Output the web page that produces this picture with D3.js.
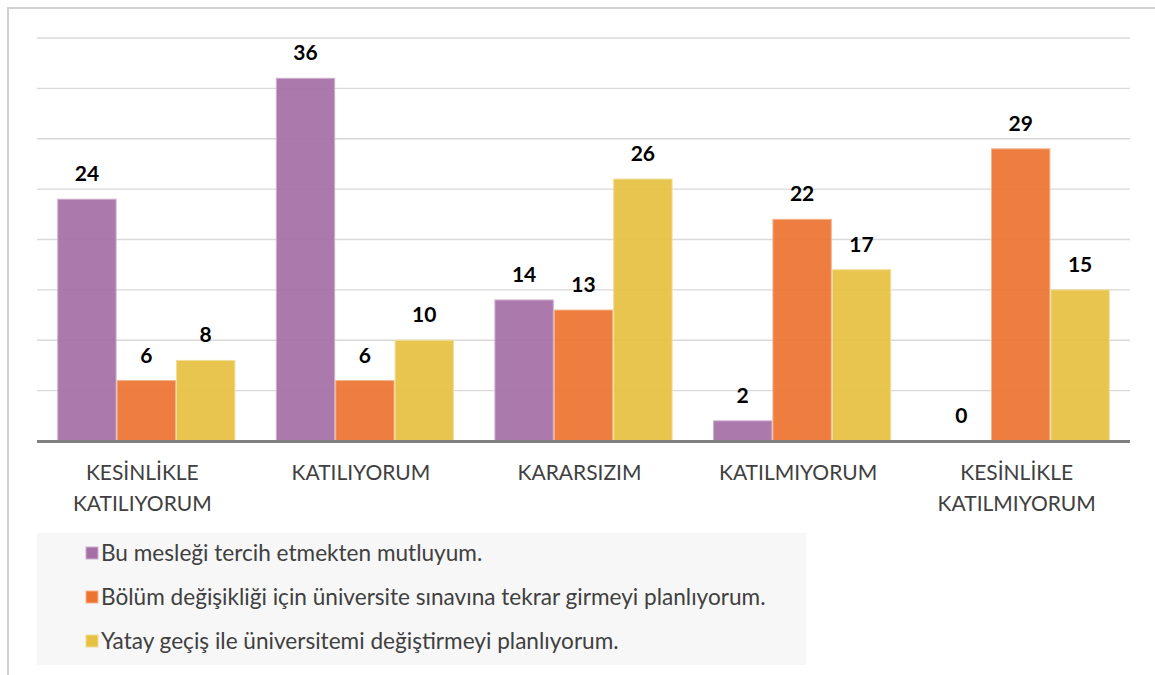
<!DOCTYPE html>
<html>
<head>
<meta charset="utf-8">
<script src="https://cdn.jsdelivr.net/npm/d3@7"></script>
<style>
  body { margin: 0; background: #fff; }
  svg { display: block; font-family: Lato, "Open Sans", sans-serif; }
</style>
</head>
<body>
<div id="chart"></div>
<script>
const categories = [
	["KESİNLİKLE", "KATILIYORUM"],
	["KATILIYORUM"],
	["KARARSIZIM"],
	["KATILMIYORUM"],
	["KESİNLİKLE", "KATILMIYORUM"]
];
const seriesNames = [
	"Bu mesleği tercih etmekten mutluyum.",
	"Bölüm değişikliği için üniversite sınavına tekrar girmeyi planlıyorum.",
	"Yatay geçiş ile üniversitemi değiştirmeyi planlıyorum."
];
const happy = [24, 36, 14, 2, 0];
const retake = [6, 6, 13, 22, 29];
const transfer = [8, 10, 26, 17, 15];
const colors = ["#a66fa6", "#ec7430", "#e6c142"];
const yTicks = [0, 5, 10, 15, 20, 25, 30, 35, 40];

const seriesValues = [happy, retake, transfer];
const width = 1155, height = 675;
const plot = { left: 37, right: 1130, top: 38, bottom: 441 };

const svg = d3.select("#chart").append("svg").attr("width", width).attr("height", height);

// outer frame (top + left only visible)
svg.append("path")
	.attr("d", `M8,${height} V8 H${width}`)
	.attr("fill", "none")
	.attr("stroke", "#d0d0d0")
	.attr("stroke-width", 2);

const x = d3.scaleBand()
	.domain(d3.range(categories.length))
	.range([plot.left, plot.right])
	.paddingInner(0.185)
	.paddingOuter(0.0925);

const xs = d3.scaleBand().domain(d3.range(seriesNames.length)).range([0, x.bandwidth()]);

const y = d3.scaleLinear().domain([0, 40]).range([plot.bottom, plot.top]);

const edge = (c) => d3.interpolateRgb(c, "#fff")(0.45);

// gridlines
svg.append("g")
	.selectAll("line")
	.data(yTicks.slice(1))
	.join("line")
	.attr("x1", plot.left)
	.attr("x2", plot.right)
	.attr("y1", (d) => y(d))
	.attr("y2", (d) => y(d))
	.attr("stroke", "#d9d9d9")
	.attr("stroke-width", 1.3);

// bars
const groups = svg.append("g")
	.selectAll("g")
	.data(categories)
	.join("g")
	.attr("transform", (d, i) => `translate(${x(i)},0)`);

groups.each(function (c, ci) {
	const g = d3.select(this);
	seriesValues.forEach((vals, si) => {
		const v = vals[ci];
		if (v > 0) {
			g.append("rect")
				.attr("x", xs(si) + 0.5)
				.attr("y", y(v))
				.attr("width", xs.bandwidth() - 1)
				.attr("height", y(0) - y(v))
				.attr("fill", colors[si])
				.attr("fill-opacity", 0.93)
				.attr("stroke", edge(colors[si]))
				.attr("stroke-width", 1);
		}
		g.append("text")
			.attr("x", xs(si) + xs.bandwidth() / 2)
			.attr("y", y(v) - 18)
			.attr("text-anchor", "middle")
			.attr("font-size", 21)
			.attr("font-weight", "bold")
			.attr("fill", "#000")
			.text(v);
	});
});

// baseline
svg.append("line")
	.attr("x1", plot.left)
	.attr("x2", plot.right)
	.attr("y1", y(0) + 0.5)
	.attr("y2", y(0) + 0.5)
	.attr("stroke", "#7f7f7f")
	.attr("stroke-width", 3);

// category labels
const catLabels = svg.append("g")
	.selectAll("text")
	.data(categories)
	.join("text")
	.attr("text-anchor", "middle")
	.attr("font-size", 21)
	.attr("fill", "#404040");

catLabels.selectAll("tspan")
	.data((d, i) => d.map((line) => ({ line, i })))
	.join("tspan")
	.attr("x", (d) => x(d.i) + x.bandwidth() / 2 - 4)
	.attr("y", (d, j) => 480 + j * 31)
	.text((d) => d.line);

// legend
const legend = svg.append("g");
legend.append("rect")
	.attr("x", 37)
	.attr("y", 533)
	.attr("width", 769)
	.attr("height", 132)
	.attr("fill", "#f7f7f7");

const items = legend.selectAll("g")
	.data(seriesNames)
	.join("g")
	.attr("transform", (d, i) => `translate(86,${553 + i * 44})`);

items.append("rect")
	.attr("x", 0)
	.attr("y", -6)
	.attr("width", 12)
	.attr("height", 12)
	.attr("fill", (d, i) => colors[i])
	.attr("stroke", (d, i) => edge(colors[i]));

items.append("text")
	.attr("x", 15)
	.attr("y", 0)
	.attr("dy", "0.35em")
	.attr("font-size", 22.6)
	.attr("fill", "#404040")
	.text((d) => d);
</script>
</body>
</html>
